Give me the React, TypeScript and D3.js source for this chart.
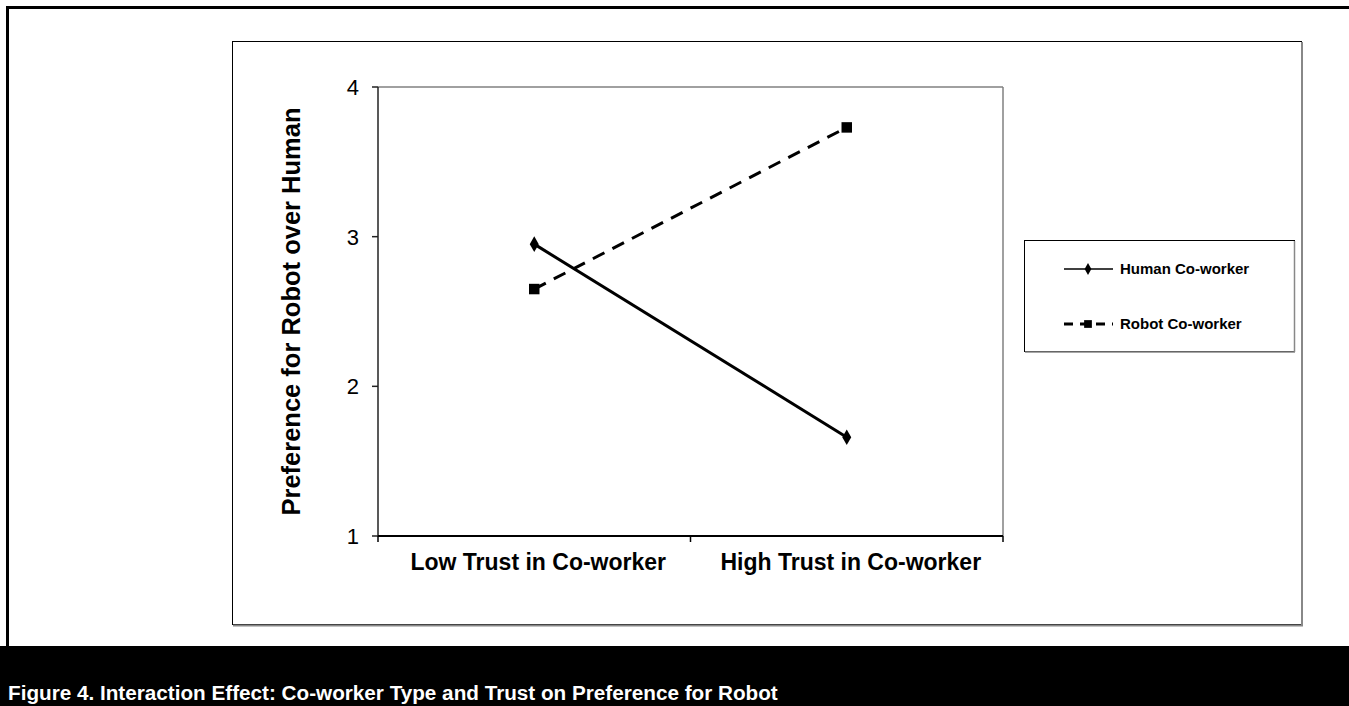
import React from 'react';
import * as d3 from 'd3';

const categories = ['Low Trust in Co-worker', 'High Trust in Co-worker'];
const humanValues = [2.95, 1.66];
const robotValues = [2.65, 3.73];
const yTicks = [1, 2, 3, 4];
const seriesNames = ['Human Co-worker', 'Robot Co-worker'];
const caption = 'Figure 4. Interaction Effect: Co-worker Type and Trust on Preference for Robot';

const W = 1349;
const H = 706;
const font = 'Arial, "Liberation Sans", sans-serif';

const App: React.FC = () => {
  // plot area
  const left = 378;
  const right = 1003;
  const top = 87;
  const bottom = 536;

  const x = d3.scaleBand<string>().domain(categories).range([left, right]);
  const y = d3.scaleLinear().domain([1, 4]).range([bottom, top]);
  const cx = (c: string) => (x(c) || 0) + x.bandwidth() / 2;

  const line = d3.line<number>()
    .x((_, i) => cx(categories[i]))
    .y(d => y(d));

  const diamond = d3.symbol().type(d3.symbolDiamond).size(70)();
  const square = d3.symbol().type(d3.symbolSquare).size(110)();

  // legend
  const lg = { x: 1024, y: 240, w: 270, h: 111 };
  const legendRows = [
    { name: seriesNames[0], dash: undefined as string | undefined, y: 269, ms: d3.symbol().type(d3.symbolDiamond).size(40)() },
    { name: seriesNames[1], dash: '9,7', y: 324, ms: d3.symbol().type(d3.symbolSquare).size(60)() },
  ];

  return (
    <svg width={W} height={H} style={{ position: 'absolute', left: 0, top: 0, background: '#fff' }} fontFamily={font}>
      {/* outer page frame */}
      <line x1={7.5} y1={7.5} x2={W} y2={7.5} stroke="#000" strokeWidth={3} />
      <line x1={7.5} y1={6} x2={7.5} y2={646} stroke="#000" strokeWidth={3} />

      {/* caption bar */}
      <rect x={0} y={646} width={W} height={H - 646} fill="#000" />
      <text x={8} y={700} fill="#fff" fontSize={20.7} fontWeight="bold">{caption}</text>

      {/* chart area frame */}
      <rect x={232.5} y={41.5} width={1069} height={583} fill="#fff" stroke="#000" strokeWidth={1} />
      <line x1={1302} y1={42} x2={1302} y2={626} stroke="#888" strokeWidth={2} />
      <line x1={233} y1={625.5} x2={1303} y2={625.5} stroke="#888" strokeWidth={2} />

      {/* plot frame top/right */}
      <line x1={left} y1={top} x2={right} y2={top} stroke="#808080" strokeWidth={1.5} />
      <line x1={right} y1={top} x2={right} y2={bottom} stroke="#808080" strokeWidth={1.5} />

      {/* y axis */}
      <line x1={left} y1={top} x2={left} y2={bottom} stroke="#222" strokeWidth={1.5} />
      {yTicks.map(t => (
        <g key={t}>
          <line x1={left - 6} y1={y(t)} x2={left} y2={y(t)} stroke="#222" strokeWidth={1.5} />
          <text x={359} y={y(t)} dy="0.36em" textAnchor="end" fontSize={22}>{t}</text>
        </g>
      ))}

      {/* x axis */}
      <line x1={left} y1={bottom} x2={right} y2={bottom} stroke="#000" strokeWidth={2} />
      {[left, ...categories.map(c => (x(c) || 0) + x.bandwidth())].map((p, i) => (
        <line key={i} x1={p} y1={bottom} x2={p} y2={bottom + 6} stroke="#000" strokeWidth={1.5} />
      ))}
      {categories.map(c => (
        <text key={c} x={cx(c) + 4} y={570} textAnchor="middle" fontSize={23} fontWeight="bold">{c}</text>
      ))}

      {/* y label */}
      <text transform={`translate(300,${(top + bottom) / 2}) rotate(-90)`} textAnchor="middle" fontSize={25.5} fontWeight="bold">
        Preference for Robot over Human
      </text>

      {/* series */}
      <path d={line(robotValues) || ''} fill="none" stroke="#000" strokeWidth={3} strokeDasharray="13,9" />
      <path d={line(humanValues) || ''} fill="none" stroke="#000" strokeWidth={3} />
      {humanValues.map((v, i) => (
        <path key={'h' + i} d={diamond || ''} transform={`translate(${cx(categories[i])},${y(v)})`} fill="#000" />
      ))}
      {robotValues.map((v, i) => (
        <path key={'r' + i} d={square || ''} transform={`translate(${cx(categories[i])},${y(v)})`} fill="#000" />
      ))}

      {/* legend */}
      <rect x={lg.x + 0.5} y={lg.y + 0.5} width={lg.w} height={lg.h} fill="#fff" stroke="#000" strokeWidth={1} />
      <line x1={lg.x + lg.w + 0.5} y1={lg.y + 1} x2={lg.x + lg.w + 0.5} y2={lg.y + lg.h + 1} stroke="#888" strokeWidth={1.5} />
      <line x1={lg.x + 1} y1={lg.y + lg.h + 1} x2={lg.x + lg.w + 1} y2={lg.y + lg.h + 1} stroke="#888" strokeWidth={1.5} />
      {legendRows.map(r => (
        <g key={r.name}>
          <line x1={1064} y1={r.y} x2={1113} y2={r.y} stroke="#000" strokeWidth={r.dash ? 3 : 1.5} strokeDasharray={r.dash} />
          <path d={r.ms || ''} transform={`translate(1088,${r.y})`} fill="#000" />
          <text x={1120} y={r.y} dy="0.35em" fontSize={15} fontWeight="bold">{r.name}</text>
        </g>
      ))}
    </svg>
  );
};

export default App;
